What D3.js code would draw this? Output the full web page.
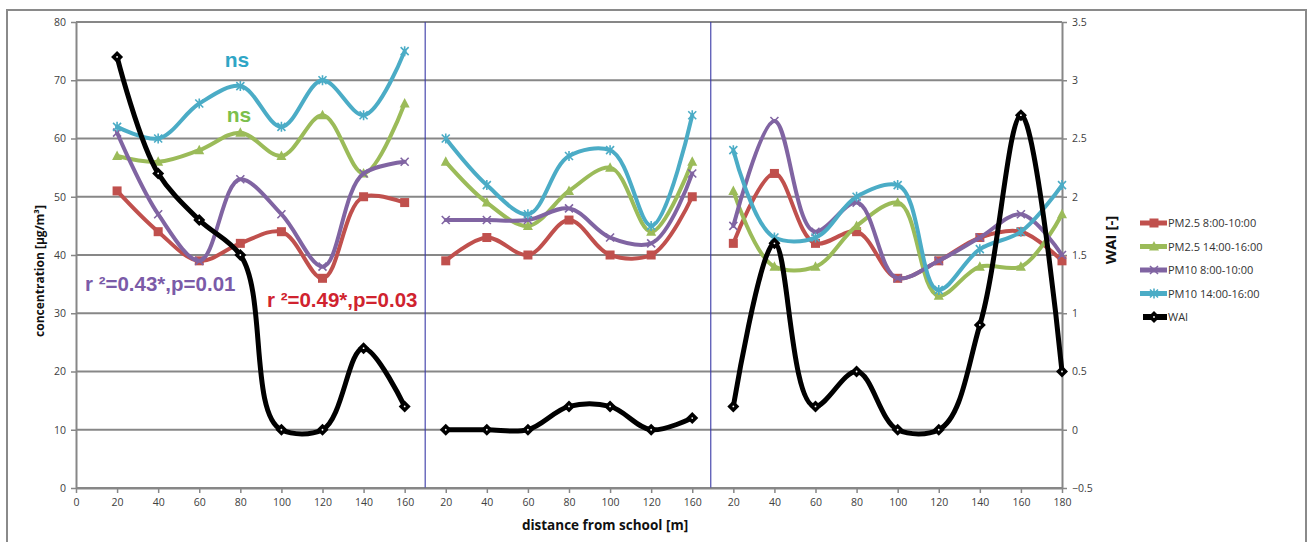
<!DOCTYPE html>
<html><head><meta charset="utf-8">
<script src="https://cdn.jsdelivr.net/npm/d3@7"></script>
<style>body{margin:0;background:#fff} svg{display:block}</style>
</head><body>
<svg id="c" width="1312" height="542"></svg>
<script>
// ---------- data ----------
const categories = ["0","20","40","60","80","100","120","140","160",
  "20","40","60","80","100","120","160",
  "20","40","60","80","100","120","140","160","180"];
const panelStarts = [0, 9, 16, 25];
const pm25Morning   = [null,51,44,39,42,44,36,50,49, 39,43,40,46,40,40,50, 42,54,42,44,36,39,43,44,39];
const pm25Afternoon = [null,57,56,58,61,57,64,54,66, 56,49,45,51,55,44,56, 51,38,38,45,49,33,38,38,47];
const pm10Morning   = [null,61,47,39,53,47,38,54,56, 46,46,46,48,43,42,54, 45,63,44,49,36,39,43,47,40];
const pm10Afternoon = [null,62,60,66,69,62,70,64,75, 60,52,47,57,58,45,64, 58,43,43,50,52,34,41,44,52];
const wai           = [null,3.2,2.2,1.8,1.5,0,0,0.7,0.2, 0,0,0,0.2,0.2,0,0.1, 0.2,1.6,0.2,0.5,0,0,0.9,2.7,0.5];
const leftTicks  = [0,10,20,30,40,50,60,70,80];
const rightTicks = [-0.5,0,0.5,1,1.5,2,2.5,3,3.5];
const seriesNames = ["PM2.5 8:00-10:00","PM2.5 14:00-16:00","PM10 8:00-10:00","PM10 14:00-16:00","WAI"];
const annotations = [
  {text:"ns", color:"#2fa6c6"},
  {text:"ns", color:"#7cbf4c"},
  {text:"r \u00B2=0.43*,p=0.01", color:"#7b5ba8"},
  {text:"r \u00B2=0.49*,p=0.03", color:"#d0232f"}
];

// ---------- setup ----------
const svg = d3.select("#c");
const L = 76, R = 1062, T = 22, B = 488;
const x = d3.scalePoint().domain(d3.range(categories.length)).range([L, R]);
const yL = d3.scaleLinear().domain([0, 80]).range([B, T]);
const yR = d3.scaleLinear().domain([-0.5, 3.5]).range([B, T]);
const gray = "#878787";
const tickFont = "'Open Sans', sans-serif";

// outer frame
svg.append("rect").attr("x", 7).attr("y", 10).attr("width", 1299).attr("height", 560)
  .attr("fill", "none").attr("stroke", "#8a8a8a").attr("stroke-width", 2);

// gridlines
svg.append("g").selectAll("line").data(leftTicks).join("line")
  .attr("x1", L).attr("x2", R).attr("y1", d => yL(d)).attr("y2", d => yL(d))
  .attr("stroke", gray).attr("stroke-width", 2);

// panel dividers
const step = x.step();
[8.5, 15.45].forEach(p => {
  const xx = x(0) + p * step;
  svg.append("line").attr("x1", xx).attr("x2", xx).attr("y1", T).attr("y2", B)
    .attr("stroke", "#3b3ba8").attr("stroke-width", 1.3).attr("opacity", 0.85);
});

// axes
function styleAxis(g) {
  g.selectAll("path.domain").attr("stroke", gray).attr("stroke-width", 2);
  g.selectAll(".tick line").attr("stroke", gray).attr("stroke-width", 1.5);
  g.selectAll(".tick text").attr("fill", "#404040").style("font-family", tickFont).style("font-size", "10.5px");
}
svg.append("g").attr("transform", `translate(${L},0)`)
  .call(d3.axisLeft(yL).tickValues(leftTicks).tickSize(5).tickSizeOuter(0).tickPadding(5).tickFormat(d3.format("d")))
  .call(styleAxis);
svg.append("g").attr("transform", `translate(${R},0)`)
  .call(d3.axisRight(yR).tickValues(rightTicks).tickSize(5).tickSizeOuter(0).tickPadding(5)
    .tickFormat(d => String(d).replace("-", "\u2212")))
  .call(styleAxis);
svg.append("g").attr("transform", `translate(0,${B})`)
  .call(d3.axisBottom(x).tickFormat(i => categories[i]).tickSize(5).tickSizeOuter(0).tickPadding(6))
  .call(styleAxis);

// axis titles
svg.append("text").attr("transform", `translate(44,271) rotate(-90)`).attr("text-anchor", "middle")
  .style("font-family", tickFont).style("font-weight", "bold").style("font-size", "12px").attr("fill", "#111")
  .text("concentration [\u00B5g/m\u00B3]");
svg.append("text").attr("transform", `translate(1116,240) rotate(-90)`).attr("text-anchor", "middle")
  .style("font-family", tickFont).style("font-weight", "bold").style("font-size", "15px").attr("fill", "#111")
  .text("WAI [-]");
svg.append("text").attr("x", 605).attr("y", 530).attr("text-anchor", "middle")
  .style("font-family", tickFont).style("font-weight", "bold").style("font-size", "13.5px").attr("fill", "#111")
  .text("distance from school [m]");

// ---------- markers ----------
function marker(g, type, color, cx, cy) {
  if (type === "square") {
    g.append("rect").attr("x", cx - 4.5).attr("y", cy - 4.5).attr("width", 9).attr("height", 9).attr("fill", color);
  } else if (type === "triangle") {
    g.append("path").attr("d", `M${cx},${cy-5.5}L${cx+5},${cy+4}L${cx-5},${cy+4}Z`).attr("fill", color);
  } else if (type === "x") {
    g.append("path").attr("d", `M${cx-4},${cy-4}L${cx+4},${cy+4}M${cx-4},${cy+4}L${cx+4},${cy-4}`)
      .attr("stroke", color).attr("stroke-width", 1.6);
  } else if (type === "star") {
    g.append("path").attr("d", `M${cx-4},${cy-4}L${cx+4},${cy+4}M${cx-4},${cy+4}L${cx+4},${cy-4}M${cx},${cy-5}L${cx},${cy+5}`)
      .attr("stroke", color).attr("stroke-width", 1.6);
  } else if (type === "diamond") {
    g.append("path").attr("d", `M${cx},${cy-6}L${cx+6},${cy}L${cx},${cy+6}L${cx-6},${cy}Z`).attr("fill", "#000");
    g.append("circle").attr("cx", cx).attr("cy", cy).attr("r", 0.9).attr("fill", "#fff");
  }
}

const series = [
  {name: seriesNames[0], values: pm25Morning,   color: "#c0504d", mk: "square",   y: yL, w: 4},
  {name: seriesNames[1], values: pm25Afternoon, color: "#9bbb59", mk: "triangle", y: yL, w: 4},
  {name: seriesNames[2], values: pm10Morning,   color: "#8064a2", mk: "x",        y: yL, w: 4},
  {name: seriesNames[3], values: pm10Afternoon, color: "#4bacc6", mk: "star",     y: yL, w: 4},
  {name: seriesNames[4], values: wai,           color: "#000000", mk: "diamond",  y: yR, w: 5}
];

const plot = svg.append("g");
series.forEach(s => {
  const g = plot.append("g");
  for (let p = 0; p < panelStarts.length - 1; p++) {
    const idx = d3.range(panelStarts[p], panelStarts[p+1]).filter(i => s.values[i] != null);
    const line = d3.line().x(i => x(i)).y(i => s.y(s.values[i])).curve(d3.curveCatmullRom.alpha(0.7));
    g.append("path").attr("d", line(idx)).attr("fill", "none").attr("stroke", s.color)
      .attr("stroke-width", s.w).attr("stroke-linejoin", "round").attr("stroke-linecap", "round");
    idx.forEach(i => marker(g, s.mk, s.color, x(i), s.y(s.values[i])));
  }
});

// ---------- legend ----------
const lg = svg.append("g");
series.forEach((s, k) => {
  const cy = 223 + k * 23.5;
  const x0 = s.mk === "diamond" ? 1143 : 1140;
  lg.append("line").attr("x1", x0).attr("x2", 1167).attr("y1", cy).attr("y2", cy)
    .attr("stroke", s.color).attr("stroke-width", s.w + 1);
  marker(lg, s.mk, s.color, 1154, cy);
  lg.append("text").attr("x", 1168).attr("y", cy + 4).style("font-family", tickFont).style("font-size", "11px")
    .attr("fill", "#333").text(s.name);
});

// ---------- annotations ----------
const annFont = "'Liberation Sans', Arial, sans-serif";
const annPos = [[237, 67, "middle", 21], [239, 122, "middle", 21], [85, 291, "start", 20.5], [267, 307, "start", 20.5]];
annotations.forEach((a, k) => {
  svg.append("text").attr("x", annPos[k][0]).attr("y", annPos[k][1]).attr("text-anchor", annPos[k][2])
    .style("font-family", annFont).style("font-weight", "bold").style("font-size", annPos[k][3] + "px")
    .attr("fill", a.color).text(a.text);
});
</script>
</body></html>
